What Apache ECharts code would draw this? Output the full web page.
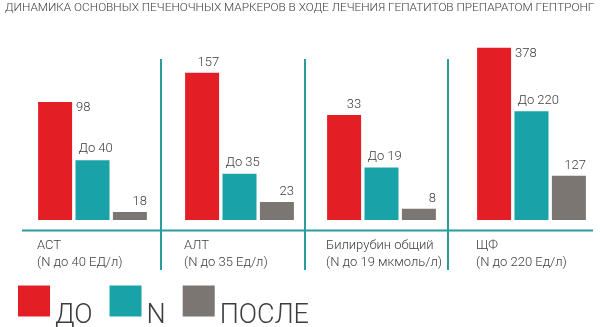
<!DOCTYPE html>
<html><head><meta charset="utf-8">
<script src="https://cdn.jsdelivr.net/npm/echarts@6/dist/echarts.min.js"></script>
<style>html,body{margin:0;padding:0;background:#fff}#c{width:600px;height:327px}</style>
</head><body><div id="c"></div>
<script>
// ---- data ----
const chartTitle = 'ДИНАМИКА ОСНОВНЫХ ПЕЧЕНОЧНЫХ МАРКЕРОВ В ХОДЕ ЛЕЧЕНИЯ ГЕПАТИТОВ ПРЕПАРАТОМ ГЕПТРОНГ';
const markers = ['АСТ', 'АЛТ', 'Билирубин общий', 'ЩФ'];
const normNotes = ['(N до 40 ЕД/л)', '(N до 35 Ед/л)', '(N до 19 мкмоль/л)', '(N до 220 Ед/л)'];
const seriesNames = ['ДО', 'N', 'ПОСЛЕ'];
const beforeValues = [98, 157, 33, 378];
const normValues = [40, 35, 19, 220];
const afterValues = [18, 23, 8, 127];

// ---- per-panel scale / layout config ----
const axisTypes = ['log', 'log', 'value', 'log'];
const axisMin = [15.9, 17.6, 5, 87.2];
const axisMax = [255, 256, 53, 404];
const groupCenters = [92.5, 239.5, 381.5, 531.5];
const redLabelSide = [true, false, false, true];

const FONT = 'Roboto, "Noto Sans", sans-serif';
const WEIGHT = 300;
const TEXT = '#3d3d3d';
const colors = ['#E31E25', '#19A3A8', '#7B7672'];
const LINE = '#2A9CA1';
const valuesBySeries = [beforeValues, normValues, afterValues];

const grids = [], xAxes = [], yAxes = [], series = [];
markers.forEach((m, i) => {
  grids.push({ left: groupCenters[i] - 60, width: 120, top: 40, bottom: 107, outerBoundsMode: 'none', containLabel: false });
  xAxes.push({
    type: 'category', gridIndex: i, data: [m],
    axisLine: { show: false }, axisTick: { show: false },
    axisLabel: {
      interval: 0, margin: 17,
      formatter: () => '{a|' + m + '}\n{a|' + normNotes[i] + '}',
      rich: { a: { width: 111, align: 'left', fontSize: 13, lineHeight: 17, color: TEXT, fontFamily: FONT, fontWeight: WEIGHT } }
    }
  });
  yAxes.push({ type: axisTypes[i], gridIndex: i, min: axisMin[i], max: axisMax[i], show: false, splitLine: { show: false } });
  seriesNames.forEach((name, s) => {
    let label;
    const base = { show: true, fontSize: 13, color: TEXT, fontFamily: FONT, fontWeight: WEIGHT, verticalAlign: 'middle' };
    if (s === 0) {
      label = redLabelSide[i]
        ? Object.assign({}, base, { position: ['100%', 6], offset: [4, 0], align: 'left' })
        : Object.assign({}, base, { position: ['100%', -10], align: 'right' });
    } else if (s === 1) {
      label = Object.assign({}, base, { position: [3, -11], align: 'left', formatter: 'До {c}' });
    } else {
      label = Object.assign({}, base, { position: ['100%', -10], align: 'right' });
    }
    series.push({
      type: 'bar', name: name, xAxisIndex: i, yAxisIndex: i,
      data: [valuesBySeries[s][i]],
      barWidth: 34, barGap: '10%', clip: true,
      itemStyle: { color: colors[s] },
      label: label, silent: true
    });
  });
});

const chart = echarts.init(document.getElementById('c'), null, { renderer: 'canvas' });
chart.setOption({
  animation: false,
  color: colors,
  title: { text: chartTitle, left: 5, top: 2, padding: 0,
    textStyle: { fontSize: 11.8, fontWeight: WEIGHT, color: TEXT, fontFamily: FONT } },
  legend: {
    data: seriesNames, left: 18, top: 272.5, icon: 'rect',
    itemWidth: 32, itemHeight: 31, itemGap: 17, padding: 0, selectedMode: false,
    formatter: '{t|{name}}',
    textStyle: {
      fontSize: 27, color: TEXT, fontFamily: FONT, fontWeight: WEIGHT,
      rich: { t: { fontSize: 27, color: TEXT, fontFamily: FONT, fontWeight: WEIGHT, lineHeight: 30, padding: [30, 0, 0, 0] } }
    }
  },
  grid: grids, xAxis: xAxes, yAxis: yAxes, series: series,
  graphic: [
    { type: 'line', shape: { x1: 22, y1: 230.5, x2: 593, y2: 230.5 }, style: { stroke: LINE, lineWidth: 2 }, silent: true },
    { type: 'line', shape: { x1: 161, y1: 59, x2: 161, y2: 270 }, style: { stroke: LINE, lineWidth: 2 }, silent: true },
    { type: 'line', shape: { x1: 305, y1: 59, x2: 305, y2: 270 }, style: { stroke: LINE, lineWidth: 2 }, silent: true },
    { type: 'line', shape: { x1: 448, y1: 59, x2: 448, y2: 270 }, style: { stroke: LINE, lineWidth: 2 }, silent: true }
  ]
});
</script></body></html>
